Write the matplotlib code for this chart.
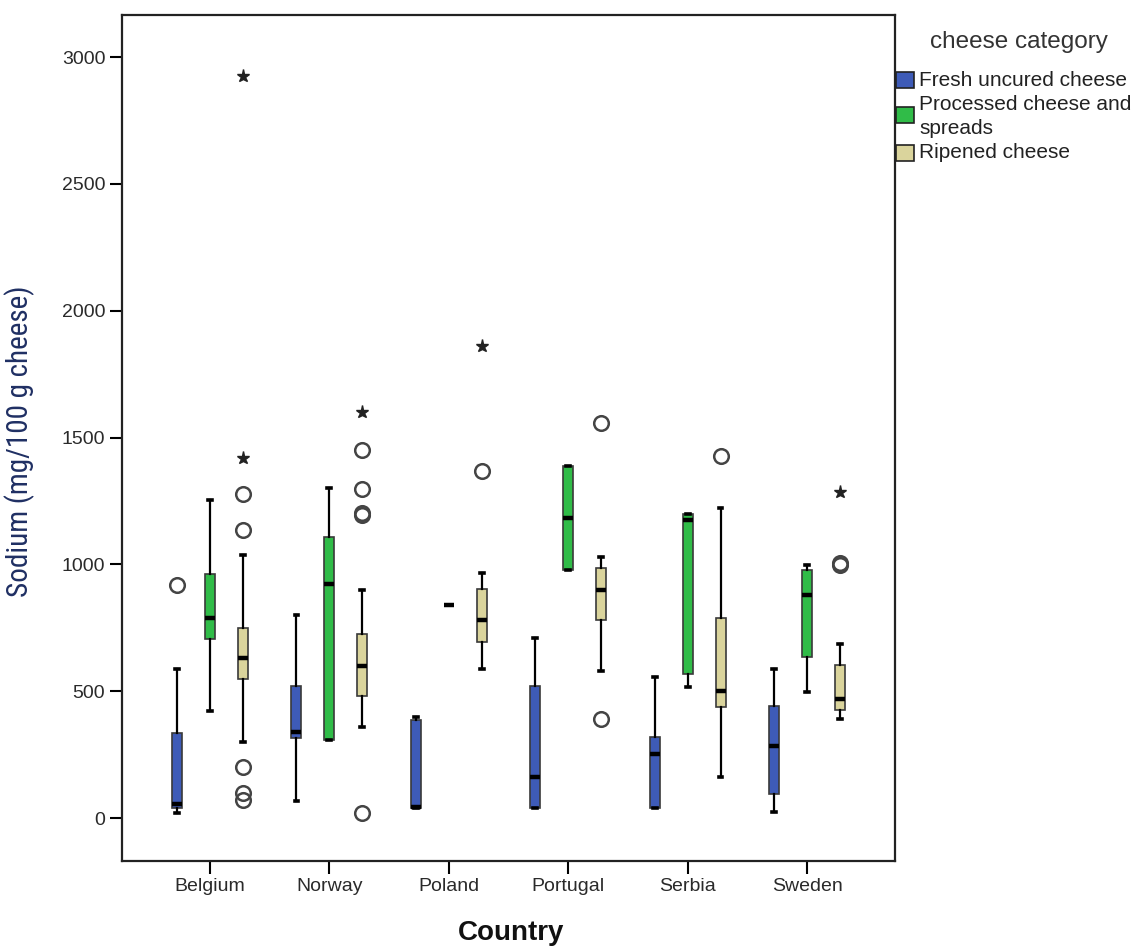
import matplotlib
matplotlib.use("Agg")
import matplotlib.pyplot as plt
from matplotlib.patches import Rectangle
import numpy as np

plt.rcParams["font.family"] = ["Liberation Sans", "DejaVu Sans"]

# ---------------- data ----------------
countries = ["Belgium", "Norway", "Poland", "Portugal", "Serbia", "Sweden"]
categories = ["Fresh uncured cheese", "Processed cheese and\nspreads", "Ripened cheese"]
colors = ["#3E5BB7", "#30BC48", "#DAD49C"]

# per category, per country
med = [
    [55, 338, 45, 160, 252, 285],
    [789, 921, 840, 1183, 1175, 881],
    [632, 600, 780, 899, 502, 469],
]
q1 = [
    [38, 314, 38, 41, 41, 95],
    [704, 307, 840, 977, 566, 636],
    [547, 481, 695, 780, 439, 426],
]
q3 = [
    [334, 520, 386, 522, 321, 441],
    [960, 1109, 840, 1387, 1197, 977],
    [748, 725, 901, 987, 790, 603],
]
whislo = [
    [19, 68, 38, 41, 41, 25],
    [420, 307, 840, 977, 518, 498],
    [298, 360, 586, 581, 160, 390],
]
whishi = [
    [589, 800, 398, 711, 557, 587],
    [1253, 1299, 840, 1387, 1200, 999],
    [1038, 899, 967, 1030, 1221, 684],
]
outliers = [
    [[920], [], [], [], [], []],
    [[], [], [], [], [], []],
    [[1135, 1276, 200, 97, 72], [1196, 1204, 1296, 1449, 21], [1369], [1558, 389], [1427], [996, 1004]],
]
extremes = [
    [[], [], [], [], [], []],
    [[], [], [], [], [], []],
    [[1418, 2925], [1599], [1860], [], [], [1286]],
]

# ---------------- figure ----------------
W, H = 1141, 949
fig = plt.figure(figsize=(W / 100, H / 100), dpi=100)
ax_l, ax_r, ax_t, ax_b = 122, 895, 15, 861
ax = fig.add_axes([ax_l / W, 1 - ax_b / H, (ax_r - ax_l) / W, (ax_b - ax_t) / H])

offsets = [-0.276, 0.0, 0.276]
base = np.arange(len(countries))
box_w = 0.085

for k in range(3):
    stats = []
    for i in range(len(countries)):
        stats.append(dict(med=med[k][i], q1=q1[k][i], q3=q3[k][i],
                          whislo=whislo[k][i], whishi=whishi[k][i],
                          fliers=outliers[k][i]))
    pos = base + offsets[k]
    ax.bxp(stats, positions=pos, widths=box_w, patch_artist=True,
           showfliers=True, capwidths=0.03, manage_ticks=False,
           boxprops=dict(facecolor=colors[k], edgecolor="#3a3a3a", linewidth=1.2),
           medianprops=dict(color="black", linewidth=3.2, solid_capstyle="butt"),
           whiskerprops=dict(color="black", linewidth=1.6),
           capprops=dict(color="black", linewidth=2.6),
           flierprops=dict(marker="o", markerfacecolor="none", markeredgecolor="#444444",
                           markersize=10.5, markeredgewidth=1.8, linestyle="none"),
           zorder=3)
    for i in range(len(countries)):
        if extremes[k][i]:
            ax.plot([pos[i]] * len(extremes[k][i]), extremes[k][i], linestyle="none",
                    marker="*", markersize=9.5, color="#222222", zorder=4)

ax.set_xlim(-0.735, 5.735)
ax.set_ylim(-169.5, 3165.6)
ax.set_xticks(base)
ax.set_xticklabels(countries)
ax.set_yticks([0, 500, 1000, 1500, 2000, 2500, 3000])
ax.tick_params(axis="both", direction="out", length=9, width=1.5, colors="black",
               labelsize=14, labelcolor="#2a2a2a", pad=3)
for s in ax.spines.values():
    s.set_linewidth(1.6)
    s.set_color("#222222")

ax.set_xlabel("Country", fontsize=20, fontweight="bold", color="#111111")
ax.xaxis.set_label_coords((511 - ax_l) / (ax_r - ax_l), (ax_b - 920) / (ax_b - ax_t))
ax.set_ylabel("Sodium (mg/100 g cheese)", fontsize=21, color="#1F2F63",
              family=["Roboto Condensed", "Liberation Sans Narrow", "DejaVu Sans"],
              fontstretch="condensed", fontweight="normal")
ax.yaxis.set_label_coords((35 - ax_l) / (ax_r - ax_l), (ax_b - 441) / (ax_b - ax_t))

# ---------------- legend ----------------
def fx(px):
    return px / W

def fy(py):
    return 1 - py / H

fig.text(fx(1019), fy(42), "cheese category", fontsize=17.5, color="#333333",
         ha="center", va="center")
patch_ys = [80, 115, 153]
text_ys = [[80], [105, 128], [153]]
for k in range(3):
    fig.add_artist(Rectangle((fx(896), fy(patch_ys[k] + 8)), fx(18), 16 / H,
                             transform=fig.transFigure, facecolor=colors[k],
                             edgecolor="#222222", linewidth=1.2))
    for line, ty in zip(categories[k].split("\n"), text_ys[k]):
        fig.text(fx(919), fy(ty), line, fontsize=15, color="#222222",
                 ha="left", va="center")

fig.savefig("out.png", dpi=100)
